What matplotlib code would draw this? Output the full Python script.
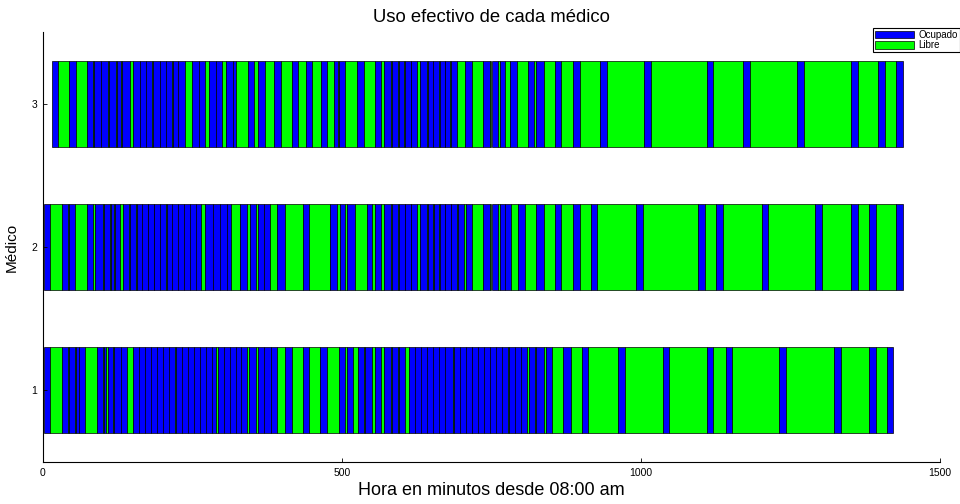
import matplotlib.pyplot as plt
from matplotlib.patches import Patch

plt.rcParams['font.family'] = ['Liberation Sans', 'DejaVu Sans']

# intervalos ocupados (minutos desde 08:00) de cada medico
ocupado_1 = [(1, 11), (31, 41), (44, 54), (56, 61), (61, 70), (91, 100), (102, 106), (109, 117),
             (119, 130), (130, 141), (150, 160), (160, 171), (171, 181), (181, 191), (191, 201),
             (201, 211), (211, 221), (223, 232), (232, 242), (242, 252), (252, 262), (262, 273),
             (273, 283), (283, 290), (292, 303), (303, 313), (313, 323), (323, 331), (331, 341),
             (345, 357), (360, 370), (370, 381), (381, 392), (405, 416), (435, 445), (464, 475),
             (495, 505), (509, 519), (526, 536), (539, 551), (556, 566), (571, 582), (584, 594),
             (595, 605), (612, 622), (622, 632), (632, 642), (642, 652), (652, 662), (662, 672),
             (672, 686), (688, 697), (697, 707), (707, 717), (718, 727), (727, 737), (737, 747),
             (747, 757), (757, 767), (767, 778), (779, 789), (789, 799), (799, 809), (813, 823),
             (825, 837), (841, 852), (870, 883), (901, 912), (962, 973), (1037, 1047),
             (1111, 1121), (1142, 1152), (1231, 1242), (1323, 1334), (1382, 1393), (1412, 1422)]

ocupado_2 = [(1, 11), (31, 41), (43, 54), (74, 84), (87, 100), (102, 112), (113, 119), (120, 129),
             (133, 144), (145, 155), (157, 165), (165, 175), (176, 185), (186, 196), (196, 206),
             (207, 216), (216, 226), (226, 236), (236, 246), (246, 256), (256, 265), (271, 285),
             (285, 296), (296, 307), (307, 315), (329, 341), (346, 356), (360, 370), (370, 380),
             (391, 405), (435, 445), (480, 491), (497, 505), (509, 521), (541, 551), (555, 566),
             (571, 582), (584, 594), (595, 605), (606, 615), (616, 626), (630, 642), (643, 653),
             (654, 662), (664, 672), (673, 682), (683, 693), (694, 704), (707, 717), (736, 747),
             (750, 761), (764, 772), (772, 782), (795, 806), (825, 837), (856, 867), (887, 898),
             (916, 927), (992, 1003), (1096, 1107), (1125, 1137), (1202, 1213), (1291, 1302),
             (1352, 1363), (1382, 1393), (1427, 1438)]

ocupado_3 = [(15, 25), (43, 55), (74, 84), (85, 97), (97, 109), (110, 122), (124, 130), (132, 145),
             (150, 162), (162, 172), (172, 182), (184, 196), (196, 206), (206, 216), (217, 226),
             (226, 237), (249, 261), (261, 271), (278, 289), (289, 299), (306, 318), (318, 323),
             (343, 353), (360, 371), (386, 398), (416, 426), (440, 450), (465, 475), (487, 493),
             (495, 505), (525, 536), (556, 566), (571, 582), (584, 594), (595, 604), (605, 615),
             (616, 625), (630, 642), (643, 653), (653, 662), (664, 672), (673, 681), (682, 692),
             (706, 717), (736, 747), (750, 761), (764, 772), (781, 792), (811, 821), (825, 837),
             (856, 867), (887, 898), (931, 943), (1005, 1016), (1111, 1121), (1171, 1182),
             (1261, 1272), (1352, 1363), (1397, 1408), (1427, 1438)]

medicos = [1, 2, 3]
ocupados = [ocupado_1, ocupado_2, ocupado_3]
etiquetas = ['Ocupado', 'Libre']
xticks = [0, 500, 1000, 1500]

azul = '#0000ff'
verde = '#00ff00'

fig = plt.figure(figsize=(9.6, 5.04), dpi=100)
ax = fig.add_axes([43 / 960, 42 / 504, 897 / 960, 430 / 504])

for m, ocup in zip(medicos, ocupados):
    for i, (ini, fin) in enumerate(ocup):
        ax.barh(m, fin - ini, left=ini, height=0.6, color=azul,
                edgecolor='k', linewidth=0.5)
        if i + 1 < len(ocup):
            sig = ocup[i + 1][0]
            if sig > fin:
                ax.barh(m, sig - fin, left=fin, height=0.6, color=verde,
                        edgecolor='k', linewidth=0.5)

ax.set_xlim(0, 1500)
ax.set_ylim(0.5, 3.5)
ax.set_xticks(xticks)
ax.set_yticks(medicos)
ax.tick_params(direction='in', length=3, width=0.6, labelsize=7.5, pad=4)
for s in ['top', 'right']:
    ax.spines[s].set_visible(False)
for s in ['left', 'bottom']:
    ax.spines[s].set_linewidth(0.8)

ax.set_title('Uso efectivo de cada médico', fontsize=13.3, pad=7)
ax.set_xlabel('Hora en minutos desde 08:00 am', fontsize=13, labelpad=3)
ax.set_ylabel('Médico', fontsize=11, labelpad=9)

handles = [Patch(facecolor=azul, edgecolor='k', linewidth=0.5),
           Patch(facecolor=verde, edgecolor='k', linewidth=0.5)]
leg = fig.legend(handles, etiquetas, loc='upper left', bbox_to_anchor=(873 / 960, 1 - 28 / 504),
                 fontsize=7, frameon=True, fancybox=False, framealpha=1, edgecolor='k',
                 handlelength=4.0, handleheight=0.75, handletextpad=0.5, borderpad=0.2,
                 labelspacing=0.05, borderaxespad=0)
leg.get_frame().set_linewidth(0.8)

fig.savefig('out.png', dpi=100)
